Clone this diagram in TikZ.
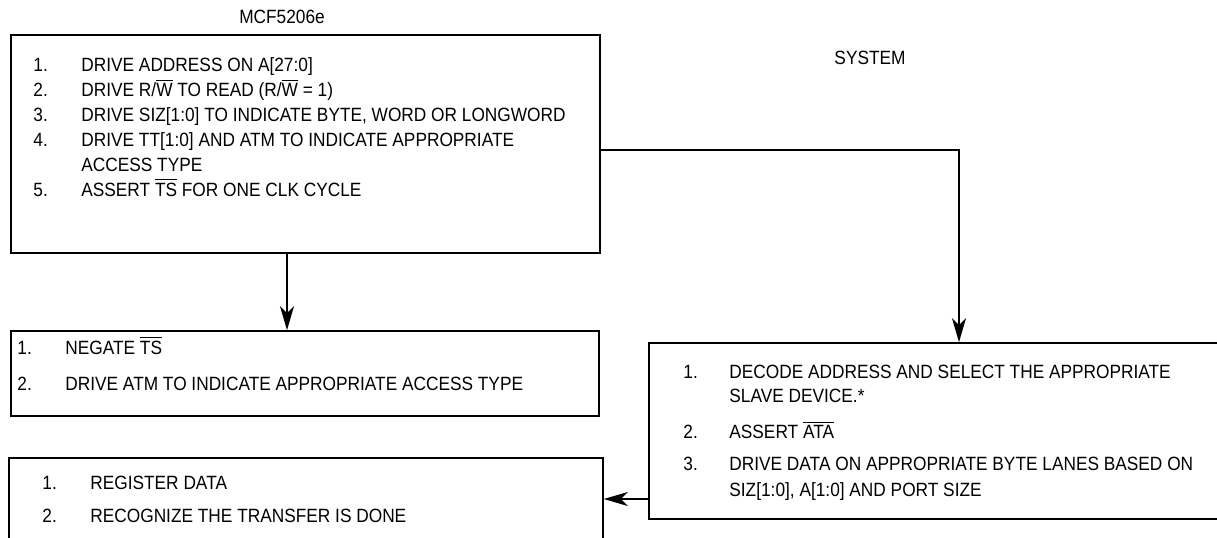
\documentclass[tikz,border=0pt]{standalone}
\usepackage{fontspec}
\setmainfont{Liberation Sans}[FakeStretch=0.9]
\usetikzlibrary{arrows.meta,fit}
\newcommand{\ovl}[1]{$\overline{\mbox{#1}}$}

\begin{document}
\begin{tikzpicture}[x=0.5pt,y=-0.5pt,
	blk/.style={draw,line width=0.8pt,inner sep=0pt},
	lst/.style={inner sep=0pt,anchor=base west,font=\fontsize{9.6pt}{12pt}\selectfont},
	lbl/.style={inner sep=0pt,font=\fontsize{9.6pt}{12pt}\selectfont},
	arr/.style={line width=0.8pt,-{Stealth[length=12pt,width=7pt,inset=3.5pt]}}]
		\pgfmathsetmacro{\ax}{287}
		\pgfmathsetmacro{\bx}{959}
		\pgfmathsetmacro{\by}{150}
		\pgfmathsetmacro{\cy}{499}

		\useasboundingbox (0,0) rectangle (1217,537);

		\node[lbl] (mcf) at (282,17) {MCF5206e};
		\node[lbl] (sys) at (870,58) {SYSTEM};

		\node[blk, fit={(11,35) (600,253)}] (drive) {};
		\node[lst, font=\fontsize{9.6pt}{12.5pt}\selectfont] (drivelist) at (33,71) {\begin{tabular}[t]{@{}p{24pt}@{}l@{}}
			1. & DRIVE ADDRESS ON A[27:0]\\
			2. & DRIVE R/\ovl{W} TO READ (R/\ovl{W} = 1)\\
			3. & DRIVE SIZ[1:0] TO INDICATE BYTE, WORD OR LONGWORD\\
			4. & DRIVE TT[1:0] AND ATM TO INDICATE APPROPRIATE\\
			   & ACCESS TYPE\\
			5. & ASSERT \ovl{TS} FOR ONE CLK CYCLE
		\end{tabular}};

		\node[blk, fit={(11,331) (599,416)}] (negate) {};
		\node[lst] (negatelist) at (17,354) {\begin{tabular}[t]{@{}p{24pt}@{}l@{}}
			1. & NEGATE \ovl{TS}\\[6pt]
			2. & DRIVE ATM TO INDICATE APPROPRIATE ACCESS TYPE
		\end{tabular}};

		\node[blk, fit={(9,458) (603,545)}] (register) {};
		\node[lst] (registerlist) at (42,489) {\begin{tabular}[t]{@{}p{24pt}@{}l@{}}
			1. & REGISTER DATA\\[4.5pt]
			2. & RECOGNIZE THE TRANSFER IS DONE
		\end{tabular}};

		\node[blk, fit={(649,343) (1225,519)}] (decode) {};
		\node[lst] (decodelist) at (683,378) {\begin{tabular}[t]{@{}p{23pt}@{}l@{}}
			1. & DECODE ADDRESS AND SELECT THE APPROPRIATE\\
			   & SLAVE DEVICE.*\\[6pt]
			2. & ASSERT \ovl{ATA}\\[4pt]
			3. & DRIVE DATA ON APPROPRIATE BYTE LANES BASED ON\\[1pt]
			   & SIZ[1:0], A[1:0] AND PORT SIZE
		\end{tabular}};

		\coordinate (dx) at (\ax,0);
		\coordinate (rx) at (\bx,0);
		\coordinate (ry) at (0,\by);
		\coordinate (ly) at (0,\cy);

		\draw[arr] (drive.south -| dx) -- (negate.north -| dx);
		\draw[arr] (drive.east |- ry) -| (decode.north -| rx);
		\draw[arr] (decode.west |- ly) -- (register.east |- ly);

        \end{tikzpicture}
\end{document}
